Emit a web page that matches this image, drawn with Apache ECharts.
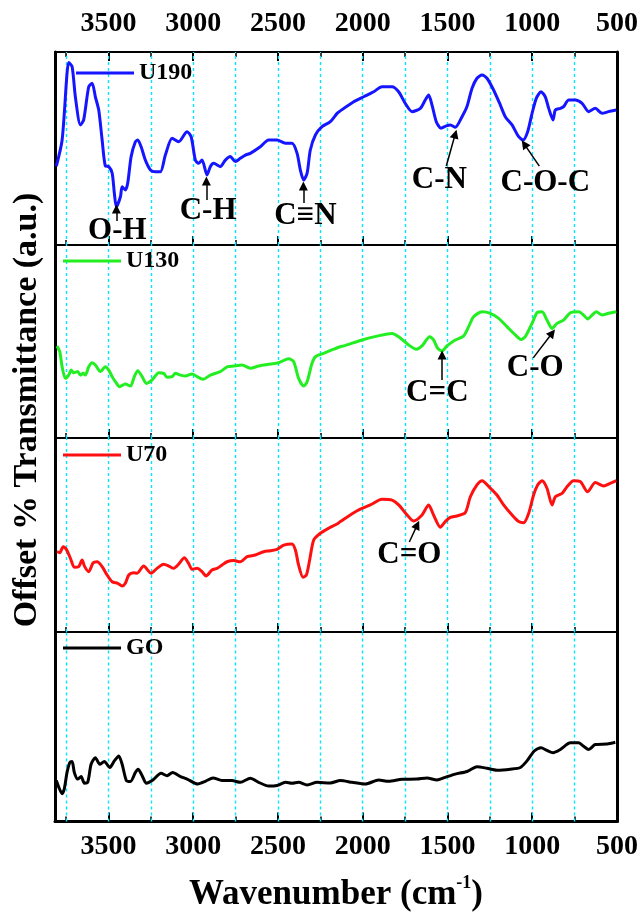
<!DOCTYPE html>
<html><head><meta charset="utf-8">
<script src="https://cdn.jsdelivr.net/npm/echarts@6/dist/echarts.min.js"></script>
<style>html,body{margin:0;padding:0;background:#fff}#c{width:641px;height:913px}</style>
</head><body><div id="c"></div>
<script>
// ---------- data (wavenumber in cm^-1, offset transmittance in arbitrary units, 0-100 per panel) ----------
const seriesNames = ['U190', 'U130', 'U70', 'GO'];
const xTickLabels = [3500, 3000, 2500, 2000, 1500, 1000, 500];
const gridLineWn = [3750, 3500, 3250, 3000, 2750, 2500, 2250, 2000, 1750, 1500, 1250, 1000, 750];

const u190Wn = [3807,3773,3744,3734,3714,3695,3665,3646,3616,3596,3577,3557,3537,3518,3498,3478,3465,3453,3429,3419,3400,3386,3366,3341,3327,3307,3282,3252,3223,3193,3164,3124,3086,3036,3012,2987,2968,2948,2918,2899,2879,2840,2810,2781,2751,2722,2692,2663,2604,2555,2505,2456,2417,2387,2368,2348,2328,2309,2279,2240,2191,2151,2132,2053,1994,1935,1886,1827,1788,1749,1709,1660,1631,1611,1591,1566,1538,1507,1483,1454,1414,1385,1355,1326,1296,1267,1228,1188,1159,1119,1080,1054,1027,1001,976,948,923,903,877,864,834,815,785,746,706,667,628,588,550,504];
const u190T = [40.9,54.4,89,94.5,92.4,76.8,62.2,64.8,82,83.8,76.8,69.9,54.4,40.9,40.6,37.3,26.9,19.8,25,30.2,28.5,32.1,45.8,53.5,54.4,50.9,44,38.9,38,38,46.6,55.3,53.5,58.7,56.1,44,42.3,44,36.3,40.6,42.3,40.6,44,45.8,43.2,44.9,46.6,47.5,50.9,54.4,54.4,52.7,52.7,47.5,38.9,33.7,37.2,49.2,57,61.3,63.9,68.2,69.5,74.2,76.8,79.4,82,82,79.4,73.4,69.1,70.8,75.1,77.7,72.5,63.9,60.5,61.7,62.2,61,66.5,71.7,81.2,86.4,88.1,86.4,80.3,72.5,66.5,62.2,56.1,54.4,58.7,68.2,76,79.4,76.8,70.8,64.8,69.9,70.8,71.7,75.1,75.1,73.4,69.1,70.8,68.2,69.1,69.9];

const u130Wn = [3803,3787,3773,3754,3734,3720,3705,3681,3665,3649,3636,3616,3596,3577,3547,3518,3498,3478,3459,3434,3400,3370,3347,3327,3301,3276,3242,3203,3174,3154,3124,3105,3075,3046,3006,2977,2942,2899,2840,2800,2761,2712,2663,2614,2545,2496,2437,2407,2378,2348,2328,2299,2279,2230,2171,2132,2112,2004,1915,1827,1788,1729,1684,1650,1605,1582,1558,1532,1503,1454,1405,1375,1346,1296,1247,1198,1149,1100,1066,1041,1001,972,942,913,883,854,815,775,726,697,673,647,622,588,550,504];
const u130T = [47.7,44.7,36.9,30.9,32.6,35.2,33.8,34.4,32.6,33.5,32.6,36.9,39,37.8,34.4,36.9,35.2,31.8,29.2,26.6,28,26.9,31.8,34.9,31.8,28.3,30.1,33.8,33.5,31.5,31.8,33.5,32.6,32.1,33.2,31.8,30.4,32.6,34.4,36.9,37.3,37.8,36.1,37.3,38.3,39,41.1,39.5,30.9,26.9,29.2,38.7,42.1,43.9,46,47.3,47.7,50.8,52.8,54.2,52.5,48.2,46,47.7,52.5,50.8,46.5,45.1,47.7,50.8,52.8,57.7,62.8,65.4,64.6,62,57.7,53.4,51.1,52.5,59.4,64.9,65.4,61.1,56.8,59.4,61.1,64.9,65.4,63.7,61.7,63.7,65.4,63.7,64.6,65.4];

const u70Wn = [3803,3787,3767,3748,3724,3701,3675,3655,3640,3616,3590,3567,3537,3508,3478,3445,3419,3400,3380,3351,3331,3292,3248,3213,3174,3144,3115,3086,3052,3027,3006,2977,2948,2924,2889,2859,2830,2800,2761,2722,2682,2633,2584,2545,2505,2466,2417,2397,2378,2352,2332,2313,2289,2250,2201,2151,2132,2033,1955,1886,1827,1788,1738,1700,1650,1611,1582,1542,1513,1483,1444,1395,1365,1326,1296,1247,1208,1169,1119,1080,1051,1021,992,968,942,913,883,864,824,795,756,716,673,628,579,540,504];
const u70T = [41.4,40.9,44,42.6,38,33.4,33.7,37.1,33.7,31.1,35.7,36.2,33.7,29.4,25.9,25.1,23.7,25.1,29.4,30.6,30.3,34,30.3,32.8,34.9,34,32.8,34.9,38.3,35.4,32.3,32.8,31.1,28.9,32,32.8,34.5,36.2,36.8,36.2,38.8,39.7,41.4,41.9,42.6,44.8,45.4,42.3,34.5,28.2,29.4,37.1,47.4,50.9,53.5,55.7,56.9,62.5,65.5,68.4,68,65.5,60.3,57.2,60.3,65.5,60.3,54,56.9,59.1,59.8,61.5,69.7,75.8,78,74.1,70.6,65.5,60.3,56.9,56.3,61.2,70.6,75.8,78,74.1,65.5,69.7,71.5,74.9,78,77.5,72.3,77,75.3,76.6,78];

const goWn = [3807,3793,3773,3760,3744,3728,3714,3701,3681,3661,3642,3622,3602,3577,3551,3524,3492,3465,3439,3419,3394,3370,3341,3325,3301,3276,3242,3189,3154,3121,3075,3036,2973,2928,2883,2830,2771,2722,2663,2614,2555,2505,2456,2417,2378,2328,2269,2191,2132,2063,1984,1906,1847,1768,1680,1621,1562,1513,1454,1385,1326,1267,1208,1129,1070,1031,988,948,913,877,834,775,726,697,667,628,559,510];
const goT = [21.6,18.1,14.7,17.3,25.9,31.1,31.6,25.9,22.4,23.7,20.2,20.7,30.2,33.7,30.2,31.6,28.5,32,34.6,30.2,21.6,21.1,25.9,27.6,24.2,20.2,21.6,25.4,24.2,25.9,23.7,22.4,19.8,21.2,23,21.6,21.6,20.7,22.8,20.7,18.7,19,20.7,20.2,20.7,19.3,20.7,20.3,21.6,20.7,19.8,21.9,21.2,22.3,22.4,23,21.9,23.3,25,26.4,28.9,28.1,27.1,27.6,28.5,32,37.2,38.9,37.5,36.3,38,41.5,41.5,39.7,38,40.6,40.9,41.8];

// band annotations (label + arrow), in data coordinates of each panel
const u190Notes = [
  {text:'O-H',   at:[3447, 7.3],  from:[3453, 12.4], to:[3453, 18.7]},
  {text:'C-H',   at:[2912, 17.6], from:[2922, 23.3], to:[2922, 33.2]},
  {text:'C≡N',   at:[2338, 15.0], from:[2350, 21.8], to:[2350, 30.6]},
  {text:'C-N',   at:[1548, 33.7], from:[1507, 40.9], to:[1454, 57.5]},
  {text:'C-O-C', at:[923, 32.1],  from:[958, 40.9],  to:[1047, 52.3]}
];
const u130Notes = [
  {text:'C=C', at:[1560, 23.3], from:[1532, 30.1], to:[1532, 43.0]},
  {text:'C-O', at:[982, 36.3],  from:[994, 41.5],  to:[882, 54.4]}
];
const u70Notes = [
  {text:'C=O', at:[1725, 39.7], from:[1725, 46.4], to:[1678, 55.2]}
];
const goNotes = [];

// ---------- chart ----------
const FONT = '"Liberation Serif", "Times New Roman", serif';
const colors = ['#1515ff', '#22ee22', '#ff1010', '#000000'];
const wnSets = [u190Wn, u130Wn, u70Wn, goWn];
const tSets = [u190T, u130T, u70T, goT];
const noteSets = [u190Notes, u130Notes, u70Notes, goNotes];
const gridTops = [52, 245, 438, 632];
const gridHeights = [193, 193, 194, 193];
const legendTops = [61, 249, 443, 636];
const legendLefts = [76, 63, 63, 63];

const cyan = '#00e8ff';
const labelFmt = v => (xTickLabels.indexOf(v) >= 0 ? String(v) : '');

// minor axis: ticks every 250 (short); major axis: ticks every 500 (long) + labels
function xAxisFor(i, pos, kind) {
  const minor = kind === 'minor';
  const bottomMost = (i === 3 && pos === 'bottom' && !minor);
  const topMost = (i === 0 && pos === 'top' && !minor);
  return {
    gridIndex: i, type: 'value', inverse: true, position: pos,
    min: 500, max: 3815, interval: minor ? 250 : 500,
    axisLine: {show: !minor, onZero: false, lineStyle: {color: '#000', width: bottomMost ? 3 : 2}},
    axisTick: {show: true, inside: true, length: minor ? 5 : 9, lineStyle: {color: '#000', width: minor ? 1.5 : 2}},
    splitLine: {show: false},
    axisLabel: {
      show: bottomMost || topMost, formatter: labelFmt, showMaxLabel: false,
      margin: topMost ? 14 : 11,
      fontFamily: FONT, fontWeight: 'bold', fontSize: 28, color: '#000'
    },
    name: bottomMost ? '{a|Wavenumber (cm}{s|-1}{a|)}' : '',
    nameLocation: 'middle', nameGap: 53,
    nameTextStyle: {
      rich: {
        a: {fontFamily: FONT, fontWeight: 'bold', fontSize: 35, color: '#000', lineHeight: 40},
        s: {fontFamily: FONT, fontWeight: 'bold', fontSize: 18, color: '#000', verticalAlign: 'top', lineHeight: 40}
      }
    }
  };
}

const grids = [], xAxes = [], yAxes = [], series = [], legends = [];
for (let i = 0; i < 4; i++) {
  grids.push({left: 55, right: 24, top: gridTops[i], height: gridHeights[i], containLabel: false});
  const dataAxisIndex = xAxes.length;
  xAxes.push(xAxisFor(i, 'bottom', 'minor'));
  xAxes.push(xAxisFor(i, 'bottom', 'major'));
  if (i === 0) {
    xAxes.push(xAxisFor(0, 'top', 'minor'));
    xAxes.push(xAxisFor(0, 'top', 'major'));
  }
  ['left', 'right'].forEach(p => yAxes.push({
    gridIndex: i, type: 'value', position: p, min: 0, max: 100,
    axisLine: {show: true, onZero: false, lineStyle: {color: '#000', width: 3}},
    axisTick: {show: false}, axisLabel: {show: false}, splitLine: {show: false}
  }));
  // dashed cyan guide lines every 250 cm-1 (drawn beneath the spectra)
  series.push({
    type: 'line', xAxisIndex: dataAxisIndex, yAxisIndex: i * 2, data: [], z: 1,
    markLine: {
      silent: true, symbol: ['none', 'none'], z: 1, animation: false,
      label: {show: false},
      lineStyle: {color: cyan, type: [3, 3], width: 1.4, opacity: 1},
      emphasis: {disabled: true},
      data: gridLineWn.map(v => ({xAxis: v}))
    }
  });
  const data = wnSets[i].map((w, k) => [w, tSets[i][k]]);
  const notes = noteSets[i];
  series.push({
    name: seriesNames[i], type: 'line',
    xAxisIndex: dataAxisIndex, yAxisIndex: i * 2,
    data: data, symbol: 'none', smooth: 0.25,
    lineStyle: {color: colors[i], width: 3}, itemStyle: {color: colors[i]},
    z: 3,
    markPoint: notes.length ? {
      silent: true, symbol: 'rect', symbolSize: 1,
      itemStyle: {color: 'rgba(0,0,0,0)'},
      label: {show: true, position: 'inside', formatter: p => p.name,
        fontFamily: FONT, fontWeight: 'bold', fontSize: 31, color: '#000'},
      data: notes.map(n => ({name: n.text, coord: n.at}))
    } : undefined,
    markLine: notes.length ? {
      silent: true, symbol: ['none', 'triangle'], symbolSize: 9,
      lineStyle: {color: '#000', width: 1.5, type: 'solid'},
      itemStyle: {color: '#000'},
      label: {show: false},
      data: notes.map(n => [{coord: n.from}, {coord: n.to}])
    } : undefined
  });
  legends.push({
    data: [{name: seriesNames[i], icon: 'rect'}], left: legendLefts[i], top: legendTops[i], padding: 0,
    itemWidth: 58, itemHeight: 3, selectedMode: false,
    textStyle: {fontFamily: FONT, fontWeight: 'bold', fontSize: 24, color: '#000'}
  });
}

const chart = echarts.init(document.getElementById('c'), null, {renderer: 'canvas'});
chart.setOption({
  animation: false,
  backgroundColor: '#fff',
  grid: grids, xAxis: xAxes, yAxis: yAxes, series: series, legend: legends,
  graphic: [{
    type: 'text', x: 27, y: 410, rotation: Math.PI / 2,
    style: {text: 'Offset % Transmittance (a.u.)', font: 'bold 34px ' + FONT, fill: '#000',
      align: 'center', verticalAlign: 'middle'}
  }]
});
</script>
</body></html>
